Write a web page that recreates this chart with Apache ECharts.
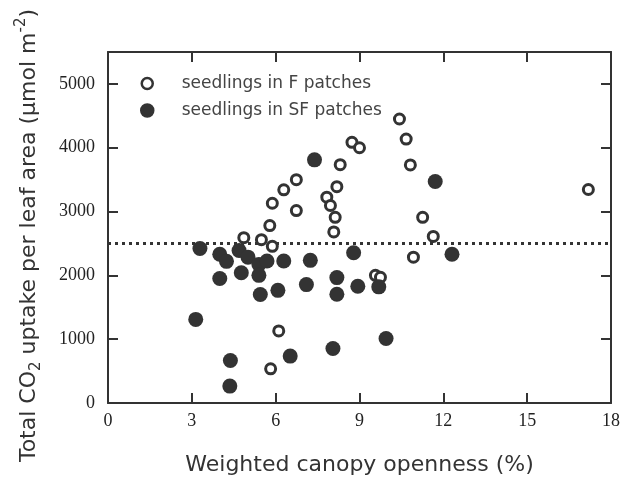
<!DOCTYPE html>
<html>
<head>
<meta charset="utf-8">
<script src="https://cdn.jsdelivr.net/npm/echarts@6/dist/echarts.min.js"></script>
<style>
  html, body { margin: 0; padding: 0; background: #fff; }
  #main { width: 623px; height: 482px; }
</style>
</head>
<body>
<div id="main"></div>
<script>
// seedlings in F patches (open circles): [openness %, CO2 uptake]
var fPatches = [
  [10.43, 4450], [10.67, 4135], [10.82, 3730], [8.73, 4085], [9.0, 4000],
  [8.31, 3735], [6.74, 3500], [6.29, 3340], [5.88, 3130], [6.74, 3015],
  [8.19, 3390], [7.83, 3225], [7.96, 3095], [8.13, 2910], [8.08, 2680],
  [5.79, 2780], [4.86, 2590], [5.49, 2560], [5.88, 2455], [11.26, 2910],
  [11.64, 2610], [10.93, 2285], [9.57, 2000], [9.75, 1970], [6.11, 1130],
  [5.82, 535], [17.19, 3345]
]
// seedlings in SF patches (filled circles)
var sfPatches = [
  [7.39, 3810], [11.71, 3470], [3.29, 2420], [12.31, 2330], [8.79, 2355],
  [4.0, 2330], [4.24, 2220], [4.69, 2390], [5.01, 2285], [5.40, 2170],
  [5.69, 2225], [6.29, 2225], [7.24, 2235], [4.0, 1950], [4.77, 2040],
  [5.40, 2000], [5.45, 1700], [6.08, 1765], [7.10, 1855], [8.19, 1965],
  [8.19, 1705], [8.94, 1830], [9.69, 1820], [3.14, 1310], [9.95, 1010],
  [8.05, 855], [6.52, 735], [4.38, 665], [4.36, 265]
]
var refLevel = 2500
var seriesNames = ['seedlings in F patches', 'seedlings in SF patches']

var ink = '#333333'
var myChart = echarts.init(document.getElementById('main'))

var tickLabel = { fontFamily: 'Liberation Serif', fontSize: 18, color: '#222' }
var titleFont = 'DejaVu Sans'

var option = {
  animation: false,
  backgroundColor: '#fff',
  grid: { left: 108, right: 11, top: 52, bottom: 79 },
  legend: {
    left: 135,
    top: 70,
    orient: 'vertical',
    itemGap: 10,
    itemWidth: 11,
    itemHeight: 11,
    data: [
      { name: seriesNames[0], itemStyle: { borderWidth: 2.5 } },
      { name: seriesNames[1], itemStyle: { borderWidth: 3.5, borderColor: ink } }
    ],
    textStyle: {
      fontFamily: titleFont,
      fontSize: 17,
      color: '#444',
      padding: [0, 0, 0, 24]
    }
  },
  xAxis: [{
    type: 'value',
    min: 0,
    max: 18,
    interval: 3,
    name: 'Weighted canopy openness (%)',
    nameLocation: 'middle',
    nameGap: 51,
    nameTextStyle: { fontFamily: titleFont, fontSize: 22, color: '#333' },
    axisLine: { onZero: false, lineStyle: { color: ink, width: 2 } },
    axisTick: { inside: true, length: 10, lineStyle: { color: ink, width: 2 } },
    axisLabel: Object.assign({ margin: 9 }, tickLabel),
    splitLine: { show: false }
  }, {
    type: 'value',
    position: 'top',
    min: 0,
    max: 18,
    interval: 3,
    axisLine: { onZero: false, lineStyle: { color: ink, width: 2 } },
    axisTick: { inside: true, length: 10, lineStyle: { color: ink, width: 2 } },
    axisLabel: { show: false },
    splitLine: { show: false }
  }],
  yAxis: [{
    type: 'value',
    min: 0,
    max: 5500,
    interval: 1000,
    name: '{a|Total CO}{sub|2}{a| uptake per leaf area (μmol m}{sup|-2}{a|)}',
    nameLocation: 'middle',
    nameRotate: 90,
    nameGap: 64,
    nameTextStyle: {
      padding: [0, 16, 0, 0],
      rich: {
        a: { fontFamily: titleFont, fontSize: 22, color: '#333', lineHeight: 30 },
        sub: { fontFamily: titleFont, fontSize: 15, color: '#333', verticalAlign: 'bottom', lineHeight: 30 },
        sup: { fontFamily: titleFont, fontSize: 15, color: '#333', verticalAlign: 'top', lineHeight: 30 }
      }
    },
    axisLine: { onZero: false, lineStyle: { color: ink, width: 2 } },
    axisTick: { inside: true, length: 10, lineStyle: { color: ink, width: 2 } },
    axisLabel: Object.assign({
      margin: 13,
      formatter: function (v) { return v === 5500 ? '' : String(v) }
    }, tickLabel),
    splitLine: { show: false }
  }, {
    type: 'value',
    position: 'right',
    min: 0,
    max: 5500,
    interval: 1000,
    axisLine: { onZero: false, lineStyle: { color: ink, width: 2 } },
    axisTick: { inside: true, length: 10, lineStyle: { color: ink, width: 2 } },
    axisLabel: { show: false },
    splitLine: { show: false }
  }],
  series: [{
    name: seriesNames[0],
    type: 'scatter',
    data: fPatches,
    symbol: 'circle',
    symbolSize: 10,
    itemStyle: { color: '#fff', borderColor: ink, borderWidth: 3, opacity: 1 },
    markLine: {
      silent: true,
      symbol: ['none', 'none'],
      label: { show: false },
      lineStyle: { color: ink, width: 3, type: [3, 4], cap: 'butt' },
      data: [{ yAxis: refLevel }],
      z: 1
    },
    z: 3
  }, {
    name: seriesNames[1],
    type: 'scatter',
    data: sfPatches,
    symbol: 'circle',
    symbolSize: 15,
    itemStyle: { color: ink, opacity: 1 },
    z: 4
  }]
}
myChart.setOption(option, true)
</script>
</body>
</html>
